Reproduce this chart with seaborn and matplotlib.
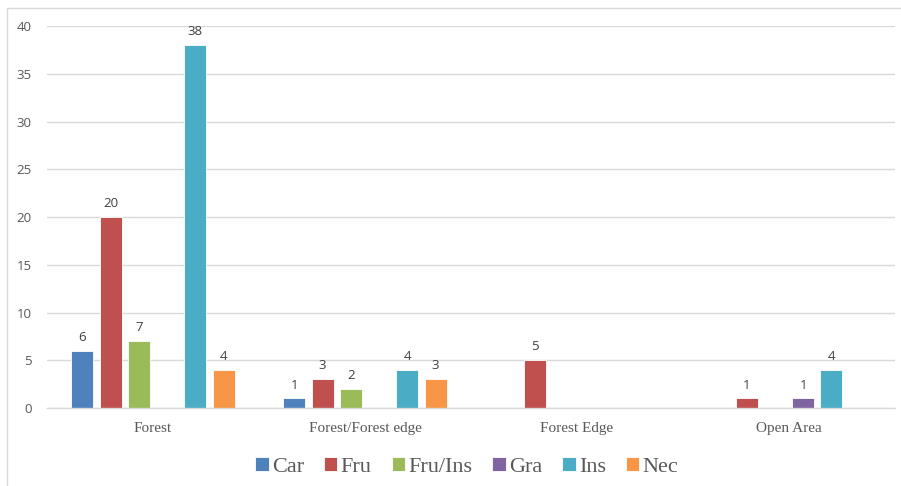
import matplotlib
matplotlib.use("Agg")
import matplotlib.pyplot as plt
import numpy as np
import pandas as pd
import seaborn as sns
from matplotlib.patches import Rectangle

sites = ["Forest", "Forest/Forest edge", "Forest Edge", "Open Area"]
guilds = ["Car", "Fru", "Fru/Ins", "Gra", "Ins", "Nec"]
# counts per guild for each site (None = no bar)
car = [6, 1, None, None]
fru = [20, 3, 5, 1]
fru_ins = [7, 2, None, None]
gra = [None, None, None, 1]
ins = [38, 4, None, 4]
nec = [4, 3, None, None]
colors = ["#4F81BD", "#C0504D", "#9BBB59", "#8064A2", "#4BACC6", "#F79646"]

rows = []
for g, vals in zip(guilds, [car, fru, fru_ins, gra, ins, nec]):
    for s, v in zip(sites, vals):
        if v is not None:
            rows.append({"site": s, "guild": g, "count": v})
df = pd.DataFrame(rows)

sns.set_style("white")
fig = plt.figure(figsize=(9.01, 4.86), dpi=100)
ax = fig.add_axes([47/901, 78/486, 848/901, 382/486])

sns.barplot(data=df, x="site", y="count", hue="guild", order=sites,
            hue_order=guilds, palette=colors, width=0.8, gap=0.22,
            edgecolor="white", linewidth=0.6, saturation=1, ax=ax)

ax.set_ylim(0, 40)
ax.set_yticks(range(0, 41, 5))
ax.yaxis.grid(True, color="#D9D9D9", linewidth=1)
ax.set_axisbelow(True)
for side in ["left", "right", "top"]:
    ax.spines[side].set_visible(False)
ax.spines["bottom"].set_color("#D9D9D9")
ax.spines["bottom"].set_linewidth(1)
ax.tick_params(length=0)
ax.set_xlabel("")
ax.set_ylabel("")
for lab in ax.get_yticklabels():
    lab.set_fontfamily("Open Sans")
    lab.set_fontsize(9.5)
    lab.set_color("#595959")
for lab in ax.get_xticklabels():
    lab.set_fontfamily("Liberation Serif")
    lab.set_fontsize(11)
    lab.set_color("#595959")
ax.tick_params(axis="y", pad=11)
ax.tick_params(axis="x", pad=10)

for cont in ax.containers:
    ax.bar_label(cont, padding=5, fontsize=9.5, color="#404040", family="Open Sans")

ax.legend(loc="upper center", bbox_to_anchor=(0.495, -0.075), ncol=6, frameon=False,
          prop={"family": "Liberation Serif", "size": 16}, handlelength=0.6,
          handleheight=0.6, handletextpad=0.15, columnspacing=0.9,
          labelcolor="#595959")

fig.patches.append(Rectangle((7/901, -0.1), 1.2, (486 - 8) / 486 + 0.1,
                             transform=fig.transFigure, fill=False,
                             edgecolor="#D9D9D9", linewidth=1))

fig.savefig("out.png", dpi=100)
